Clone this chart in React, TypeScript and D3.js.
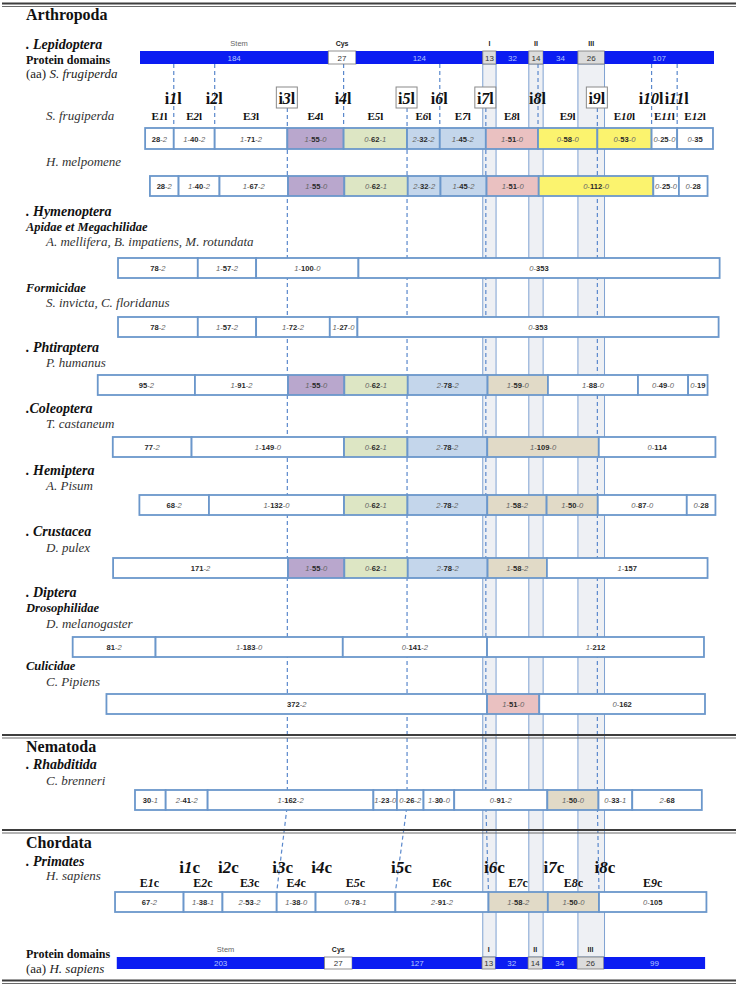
import React from "react";
import * as d3 from "d3";

const W = 740;
const H = 988;

// ---------- data ----------
const lepDomainLengths = [184, 27, 124, 13, 32, 14, 34, 26, 107];
const humDomainLengths = [203, 27, 127, 13, 32, 14, 34, 26, 99];
const domainKinds = ["stem", "cys", "plain", "motif", "plain", "motif", "plain", "motif", "plain"];
const domainTitles = ["Stem", "Cys", "", "I", "", "II", "", "III", ""];
const lepDomainOffset = 0;
const humDomainOffset = -22.7;

const sfrugExons = ["28-2", "1-40-2", "1-71-2", "1-55-0", "0-62-1", "2-32-2", "1-45-2", "1-51-0", "0-58-0", "0-53-0", "0-25-0", "0-35"];
const sfrugColors = ["w", "w", "w", "p", "g", "b", "b", "r", "y", "y", "w", "w"];
const hmelExons = ["28-2", "1-40-2", "1-67-2", "1-55-0", "0-62-1", "2-32-2", "1-45-2", "1-51-0", "0-112-0", "0-25-0", "0-28"];
const hmelColors = ["w", "w", "w", "p", "g", "b", "b", "r", "y", "w", "w"];
const apidaeExons = ["78-2", "1-57-2", "1-100-0", "0-353"];
const apidaeColors = ["w", "w", "w", "w"];
const formicidaeExons = ["78-2", "1-57-2", "1-72-2", "1-27-0", "0-353"];
const formicidaeColors = ["w", "w", "w", "w", "w"];
const phumExons = ["95-2", "1-91-2", "1-55-0", "0-62-1", "2-78-2", "1-59-0", "1-88-0", "0-49-0", "0-19"];
const phumColors = ["w", "w", "p", "g", "b", "t", "w", "w", "w"];
const tcasExons = ["77-2", "1-149-0", "0-62-1", "2-78-2", "1-109-0", "0-114"];
const tcasColors = ["w", "w", "g", "b", "t", "w"];
const apisExons = ["68-2", "1-132-0", "0-62-1", "2-78-2", "1-58-2", "1-50-0", "0-87-0", "0-28"];
const apisColors = ["w", "w", "g", "b", "t", "t", "w", "w"];
const dpulExons = ["171-2", "1-55-0", "0-62-1", "2-78-2", "1-58-2", "1-157"];
const dpulColors = ["w", "p", "g", "b", "t", "w"];
const dmelExons = ["81-2", "1-183-0", "0-141-2", "1-212"];
const dmelColors = ["w", "w", "w", "w"];
const cpipExons = ["372-2", "1-51-0", "0-162"];
const cpipColors = ["w", "r", "w"];
const cbreExons = ["30-1", "2-41-2", "1-162-2", "1-23-0", "0-26-2", "1-30-0", "0-91-2", "1-50-0", "0-33-1", "2-68"];
const cbreColors = ["w", "w", "w", "w", "w", "w", "w", "t", "w", "w"];
const hsapExons = ["67-2", "1-38-1", "2-53-2", "1-38-0", "0-78-1", "2-91-2", "1-58-2", "1-50-0", "0-105"];
const hsapColors = ["w", "w", "w", "w", "w", "w", "t", "t", "w"];

// alignment shift of each row (aa)
const rowOffsets = [5, 9.7, -21.5, -21.5, -41.3, -26.6, -0.6, -26.3, -65.8, -32.8, -4.9, -24.4];

const lepShortIntrons = [1, 2, 4, 6, 8, 10, 11];
const boxedIntrons = [3, 5, 7, 9];
const conservedPairs: [number, number][] = [[3, 3], [5, 5], [7, 6], [9, 8]];

const colorMap: Record<string, string> = {
  w: "#ffffff",
  p: "#b9a7cd",
  g: "#dde6c4",
  b: "#c4d6eb",
  r: "#eac1c1",
  y: "#fbf36e",
  t: "#e1dac7",
};

// ---------- layout ----------
const rowTops = [128, 176, 258, 317, 375, 437, 495, 558, 637, 694, 790, 892];
const rowH = 20;
const serif = "'Liberation Serif', 'Times New Roman', serif";
const sans = "'Liberation Sans', Arial, sans-serif";
const cellStroke = "#6b97cb";
const dashColor = "#5a88cc";

type Exon = { p1: string | null; len: number; p2: string | null; start: number; end: number; color: string };

function parseExons(labels: string[], colors: string[], offset: number): Exon[] {
  let s = offset;
  return labels.map((lab, i) => {
    const parts = lab.split("-");
    let p1: string | null = null, p2: string | null = null, len = 0;
    if (parts.length === 3) { p1 = parts[0]; len = +parts[1]; p2 = parts[2]; }
    else if (i === 0) { len = +parts[0]; p2 = parts[1]; }
    else { p1 = parts[0]; len = +parts[1]; }
    const e = { p1, len, p2, start: s, end: s + len, color: colorMap[colors[i]] };
    s += len;
    return e;
  });
}

function segments(lengths: number[], offset: number) {
  const cum = Array.from(d3.cumsum(lengths));
  return lengths.map((len, i) => ({
    len, kind: domainKinds[i], title: domainTitles[i],
    start: offset + (i === 0 ? 0 : cum[i - 1]), end: offset + cum[i],
  }));
}

const allRows = [
  [sfrugExons, sfrugColors], [hmelExons, hmelColors], [apidaeExons, apidaeColors],
  [formicidaeExons, formicidaeColors], [phumExons, phumColors], [tcasExons, tcasColors],
  [apisExons, apisColors], [dpulExons, dpulColors], [dmelExons, dmelColors],
  [cpipExons, cpipColors], [cbreExons, cbreColors], [hsapExons, hsapColors],
];

function DoubleRule({ y }: { y: number }) {
  return (
    <g>
      <line x1={2} x2={736} y1={y} y2={y} stroke="#3d3d3d" strokeWidth={1.8} />
      <line x1={2} x2={736} y1={y + 3} y2={y + 3} stroke="#6a6a6a" strokeWidth={1.1} />
    </g>
  );
}

function DomainBar({ segs, x, y, h, labelY }: any) {
  return (
    <g>
      {segs.map((s: any, i: number) => {
        const x0 = x(s.start), x1 = x(s.end);
        const isBox = s.kind === "motif" || s.kind === "cys";
        return (
          <g key={i}>
            <rect x={x0} y={y} width={x1 - x0} height={h}
              fill={s.kind === "motif" ? "#dcdcdc" : s.kind === "cys" ? "#ffffff" : "#0b1cf2"}
              stroke={isBox ? "#777" : "none"} strokeWidth={isBox ? 0.8 : 0} />
            <text x={(x0 + x1) / 2} y={y + h / 2 + 3} textAnchor="middle" fontFamily={sans} fontSize={8}
              fill={isBox ? "#333" : "#b4c6ff"}>{s.len}</text>
            {s.title && (
              <text x={(x0 + x1) / 2 + (s.kind === "stem" ? 5 : 0)} y={labelY} textAnchor="middle" fontFamily={sans}
                fontSize={s.kind === "stem" ? 7.5 : 7} fontWeight={s.kind === "stem" ? 400 : 700}
                fill={s.kind === "stem" ? "#666" : "#222"}>{s.title}</text>
            )}
          </g>
        );
      })}
    </g>
  );
}

function ExonRow({ exons, x, top, h }: { exons: Exon[]; x: any; top: number; h: number }) {
  return (
    <g>
      {exons.map((e, i) => {
        const x0 = x(e.start), x1 = x(e.end);
        return (
          <g key={i}>
            <rect x={x0} y={top} width={x1 - x0} height={h} fill={e.color} stroke={cellStroke} strokeWidth={1.8} />
            <text x={(x0 + x1) / 2} y={top + h / 2 + 3} textAnchor="middle" fontFamily={sans} fontSize={7.6} fill="#333">
              {e.p1 !== null && <tspan fontStyle="italic" fill="#666">{e.p1}</tspan>}
              {e.p1 !== null && <tspan fill="#666">-</tspan>}
              <tspan fontWeight={700} fill="#2a2a2a">{e.len}</tspan>
              {e.p2 !== null && <tspan fill="#666">-</tspan>}
              {e.p2 !== null && <tspan fontStyle="italic" fill="#666">{e.p2}</tspan>}
            </text>
          </g>
        );
      })}
    </g>
  );
}

function Label({ x, y, size, weight = 400, italic = false, color = "#111", children }: any) {
  return (
    <text x={x} y={y} fontFamily={serif} fontSize={size} fontWeight={weight}
      fontStyle={italic ? "italic" : "normal"} fill={color}>{children}</text>
  );
}

export default function App() {
  const x = d3.scaleLinear().domain([0, 561]).range([140, 714]);
  const lepSegs = segments(lepDomainLengths, lepDomainOffset);
  const humSegs = segments(humDomainLengths, humDomainOffset);
  const bands = lepSegs.filter((s) => s.kind === "motif");
  const rows = allRows.map(([labs, cols], i) => parseExons(labs as string[], cols as string[], rowOffsets[i]));
  const sfrug = rows[0];
  const hsap = rows[11];
  const lepB = (k: number) => x(sfrug[k - 1].end);
  const humB = (k: number) => x(hsap[k - 1].end);

  const lepBarY = 51, lepBarH = 13;
  const humBarY = 957, humBarH = 12;

  return (
    <svg width={W} height={H} style={{ position: "absolute", left: 0, top: 0, background: "#fff" }}>
      <rect x={0} y={0} width={W} height={H} fill="#fff" />
      {/* motif bands */}
      {bands.map((b, i) => (
        <rect key={i} x={x(b.start)} y={lepBarY + lepBarH} width={x(b.end) - x(b.start)}
          height={humBarY - lepBarY - lepBarH} fill="#eef0f4" stroke="#7fa2d2" strokeWidth={1} />
      ))}

      {/* short dashed lines */}
      {lepShortIntrons.map((k) => (
        <line key={k} x1={lepB(k)} x2={lepB(k)} y1={lepBarY + lepBarH} y2={rowTops[0]}
          stroke={dashColor} strokeWidth={1.2} strokeDasharray="4 3" />
      ))}
      {/* conserved dashed lines */}
      {conservedPairs.map(([a, b]) => (
        <polyline key={a} points={`${lepB(a)},108 ${lepB(a)},805 ${humB(b)},${rowTops[11]}`} fill="none"
          stroke={dashColor} strokeWidth={1.2} strokeDasharray="4 3" />
      ))}

      <DoubleRule y={3.5} />
      <DoubleRule y={735} />
      <DoubleRule y={830} />
      <DoubleRule y={980.5} />

      {/* domain bars */}
      <DomainBar segs={lepSegs} x={x} y={lepBarY} h={lepBarH} labelY={46} />
      <DomainBar segs={humSegs} x={x} y={humBarY} h={humBarH} labelY={952} />

      {/* exon rows */}
      {rows.map((r, i) => (
        <ExonRow key={i} exons={r} x={x} top={rowTops[i]} h={i === 0 ? 21 : rowH} />
      ))}

      {/* Lepidoptera intron labels */}
      {sfrug.slice(0, -1).map((_, i) => {
        const k = i + 1;
        const cx = lepB(k);
        const boxed = boxedIntrons.includes(k);
        return (
          <g key={k}>
            {boxed && <rect x={cx - 11} y={87} width={21} height={21} fill="#fff" stroke="#8a8a8a" strokeWidth={1} />}
            <text x={cx - 0.5} y={104} textAnchor="middle" fontFamily={serif} fontSize={16} fontWeight={700} fill="#111">
              <tspan>i</tspan><tspan fontStyle="italic">{k}</tspan><tspan>l</tspan>
            </text>
          </g>
        );
      })}
      {/* Lepidoptera exon labels */}
      {sfrug.map((e, i) => (
        <text key={i} x={(x(e.start) + x(e.end)) / 2} y={120} textAnchor="middle" fontFamily={serif}
          fontSize={11} fontWeight={700} fill="#111">
          <tspan>E</tspan><tspan fontStyle="italic">{i + 1}</tspan><tspan>l</tspan>
        </text>
      ))}

      {/* Chordata intron labels */}
      {hsap.slice(0, -1).map((_, i) => (
        <text key={i} x={humB(i + 1) + 6} y={873} textAnchor="middle" fontFamily={serif} fontSize={17}
          fontWeight={700} fill="#111">
          <tspan>i</tspan><tspan fontStyle="italic">{i + 1}</tspan><tspan>c</tspan>
        </text>
      ))}
      {hsap.map((e, i) => (
        <text key={i} x={(x(e.start) + x(e.end)) / 2} y={887} textAnchor="middle" fontFamily={serif}
          fontSize={12} fontWeight={700} fill="#111">
          <tspan>E</tspan><tspan fontStyle="italic">{i + 1}</tspan><tspan>c</tspan>
        </text>
      ))}

      {/* left labels */}
      <Label x={26} y={20} size={16} weight={700}>Arthropoda</Label>
      <Label x={26} y={49} size={14} weight={700} italic>. Lepidoptera</Label>
      <Label x={26} y={64} size={12} weight={700}>Protein domains</Label>
      <Label x={26} y={78} size={13} color="#222">(aa) <tspan fontStyle="italic">S. frugiperda</tspan></Label>
      <Label x={46} y={120} size={13} italic color="#333">S. frugiperda</Label>
      <Label x={46} y={166} size={13} italic color="#333">H. melpomene</Label>

      <Label x={26} y={216} size={14} weight={700} italic>. Hymenoptera</Label>
      <Label x={26} y={231} size={12.5} weight={700} italic>Apidae et Megachilidae</Label>
      <Label x={46} y={246} size={13} italic color="#333">A. mellifera, B. impatiens, M. rotundata</Label>
      <Label x={26} y={292} size={12.5} weight={700} italic>Formicidae</Label>
      <Label x={46} y={307} size={13} italic color="#333">S. invicta, C. floridanus</Label>

      <Label x={26} y={352} size={14} weight={700} italic>. Phtiraptera</Label>
      <Label x={46} y={367} size={13} italic color="#333">P. humanus</Label>
      <Label x={26} y={413} size={14} weight={700} italic>.Coleoptera</Label>
      <Label x={46} y={428} size={13} italic color="#333">T. castaneum</Label>
      <Label x={26} y={475} size={14} weight={700} italic>. Hemiptera</Label>
      <Label x={46} y={490} size={13} italic color="#333">A. Pisum</Label>
      <Label x={26} y={536} size={14} weight={700} italic>. Crustacea</Label>
      <Label x={46} y={552} size={13} italic color="#333">D. pulex</Label>
      <Label x={26} y={597} size={14} weight={700} italic>. Diptera</Label>
      <Label x={26} y={612} size={12.5} weight={700} italic>Drosophilidae</Label>
      <Label x={46} y={628} size={13} italic color="#333">D. melanogaster</Label>
      <Label x={26} y={670} size={12.5} weight={700} italic>Culicidae</Label>
      <Label x={46} y={686} size={13} italic color="#333">C. Pipiens</Label>

      <Label x={26} y={752} size={16} weight={700}>Nematoda</Label>
      <Label x={26} y={769} size={14} weight={700} italic>. Rhabditida</Label>
      <Label x={46} y={785} size={13} italic color="#333">C. brenneri</Label>

      <Label x={26} y={848} size={16} weight={700}>Chordata</Label>
      <Label x={26} y={866} size={14} weight={700} italic>. Primates</Label>
      <Label x={46} y={880} size={13} italic color="#333">H. sapiens</Label>
      <Label x={26} y={958} size={12} weight={700}>Protein domains</Label>
      <Label x={26} y={973} size={13} color="#222">(aa) <tspan fontStyle="italic">H. sapiens</tspan></Label>
    </svg>
  );
}
